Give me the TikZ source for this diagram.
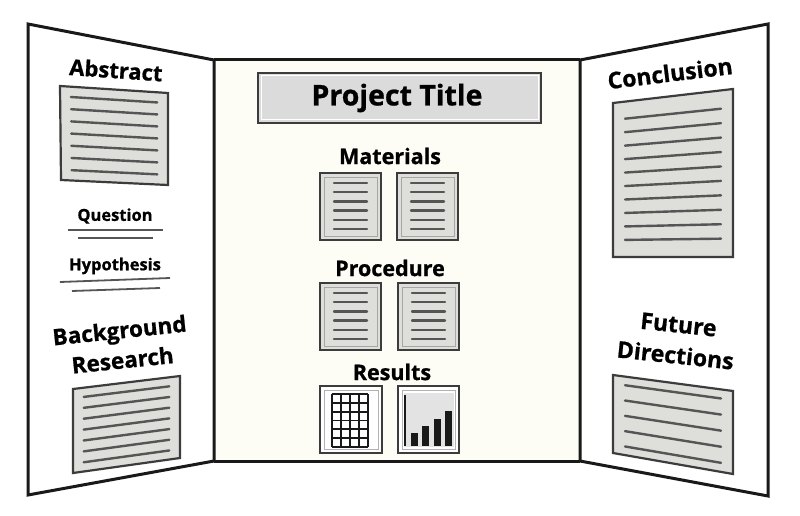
\documentclass[tikz,border=0pt]{standalone}
\usepackage{fontspec}
\setmainfont{Open Sans}[BoldFeatures={FakeBold=0.8}]
\usetikzlibrary{calc}
\definecolor{edge}{RGB}{25,25,25}
\definecolor{paperfill}{RGB}{222,222,218}
\definecolor{txtline}{RGB}{85,85,85}
\definecolor{centerfill}{RGB}{253,253,246}
\newcommand\sheet[5]{%
  \coordinate (sA) at (#1);
  \coordinate (sB) at (#2);
  \coordinate (sC) at (#3);
  \coordinate (sD) at (#4);
  \fill[paperfill] (sA)--(sB)--(sC)--(sD)--cycle;
  \foreach \i in {1,...,#5}{%
    \pgfmathsetmacro\tt{0.11+(\i-1)*0.78/(#5-1)}
    \draw[textline] ($($(sA)!\tt!(sD)$)!0.1!($(sB)!\tt!(sC)$)$) -- ($($(sA)!\tt!(sD)$)!0.9!($(sB)!\tt!(sC)$)$);
  }
  \draw[sheetedge] (sA)--(sB)--(sC)--(sD)--cycle;
}
\newcommand\smallsheet[2]{%
  \fill[paperfill] (#1,#2) rectangle ++(61,67);
  \draw[gray!70, line width=0.6pt] ($(#1,#2)+(4,4)$) rectangle ++(53,59);
  \foreach \k in {0,...,5}{%
    \draw[textline] ($(#1,#2)+(14,10+\k*9.2)$) -- ++(33,0);
  }
  \draw[sheetedge] (#1,#2) rectangle ++(61,67);
}
\tikzset{
  panel/.style={draw=edge, line width=3pt, line join=miter},
  sheetedge/.style={draw=edge!85, line width=2.2pt, line join=miter},
  textline/.style={draw=txtline, line width=2.4pt, line cap=round},
  ulline/.style={draw=txtline, line width=1.8pt},
  lbl/.style={font=\bfseries, text=black, inner sep=0pt},
}
\begin{document}
\begin{tikzpicture}[x=1pt,y=-1pt]
\useasboundingbox (0,0) rectangle (800,516);
\fill[white] (0,0) rectangle (800,516);
% panels
\coordinate (LTL) at (28,24);
\coordinate (LTR) at (214,60);
\coordinate (LBR) at (214,461);
\coordinate (LBL) at (28,495);
\coordinate (RTL) at (580,60);
\coordinate (RTR) at (768,24);
\coordinate (RBR) at (768,496);
\coordinate (RBL) at (580,461);
\fill[centerfill] (LTR) rectangle (RBL);
\draw[panel] (LTL) -- (LTR) -- (LBR) -- (LBL) -- cycle;
\draw[panel] (RTL) -- (RTR) -- (RBR) -- (RBL) -- cycle;
\draw[panel] (LTR) -- (RTL);
\draw[panel] (LBR) -- (RBL);

% center title
\fill[gray!28] (258,73) rectangle (541,123);
\draw[white, line width=1pt] (261,76) rectangle (538,120);
\draw[sheetedge] (258,73) rectangle (541,123);
\node[lbl, font=\bfseries\fontsize{28.5}{28.5}\selectfont] (title) at (397,98) {Project Title};

\node[lbl, font=\bfseries\fontsize{21.5}{21.5}\selectfont] (materials) at (390,156) {Materials};
\smallsheet{320}{173}
\smallsheet{397}{173}
\node[lbl, font=\bfseries\fontsize{21.5}{21.5}\selectfont] (procedure) at (390,268) {Procedure};
\smallsheet{320}{283}
\smallsheet{398}{283}
\node[lbl, font=\bfseries\fontsize{21.5}{21.5}\selectfont] (results) at (392,372) {Results};
% results boxes
\fill[white] (320,386) rectangle (382,453);
\draw[gray!60, line width=0.8pt] (324,390) rectangle (378,449);
\draw[sheetedge] (320,386) rectangle (382,453);
\fill[white] (332,394) rectangle (368,447);
\foreach \gx in {0,...,4} \draw[edge, line width=1.8pt] (332+\gx*9,394) -- (332+\gx*9,447);
\foreach \gy in {0,...,6} \draw[edge, line width=1.8pt] (332,394+\gy*8.83) -- (368,394+\gy*8.83);
\fill[white] (398,386) rectangle (459,453);
\fill[gray!22] (404,393) rectangle (454,447);
\draw[gray!60, line width=0.8pt] (402,390) rectangle (455,449);
\draw[sheetedge] (398,386) rectangle (459,453);
\draw[edge, line width=1.5pt] (405,395) -- (405,446);
\fill[edge] (411,433) rectangle (418,446);
\fill[edge] (422,426) rectangle (429,446);
\fill[edge] (434,419) rectangle (441,446);
\fill[edge] (445,411) rectangle (452,446);

% left panel
\node[lbl, font=\bfseries\fontsize{22}{22}\selectfont, rotate=-4] (abstract) at (116,70) {Abstract};
\sheet{60,86}{168,93}{168,185}{61,180}{7}
\node[lbl, font=\bfseries\fontsize{16.5}{16.5}\selectfont] (question) at (115,216) {Question};
\draw[ulline] (68,230) -- (163,230);
\draw[ulline] (78,238) -- (153,238);
\node[lbl, font=\bfseries\fontsize{16.5}{16.5}\selectfont] (hypothesis) at (115,266) {Hypothesis};
\draw[ulline] (60,282) -- (170,278);
\draw[ulline] (72,291) -- (160,288);
\node[lbl, font=\bfseries\fontsize{22.5}{30}\selectfont, align=center, rotate=6] (bgresearch) at (121,345) {Background\\Research};
\sheet{73,389}{180,376}{180,458}{73,473}{7}

% right panel
\node[lbl, font=\bfseries\fontsize{23}{23}\selectfont, rotate=7] (conclusion) at (670,73) {Conclusion};
\sheet{613,103}{733,89}{733,257}{613,257}{10}
\node[lbl, font=\bfseries\fontsize{23}{31}\selectfont, align=center, rotate=-6] (futuredir) at (677,340) {Future\\Directions};
\sheet{613,375}{733,391}{733,474}{613,453}{5}
\end{tikzpicture}
\end{document}
